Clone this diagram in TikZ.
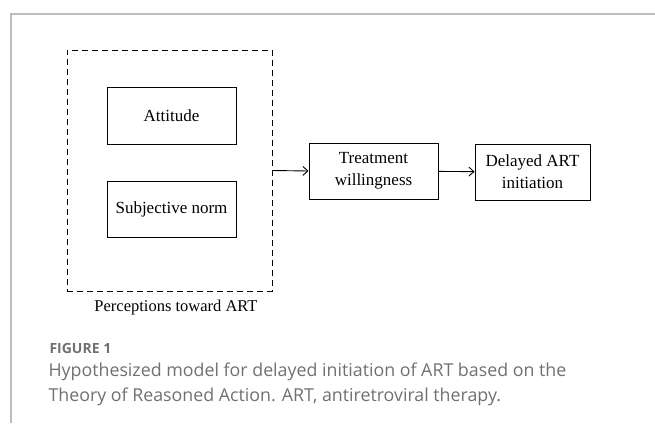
\documentclass[tikz,border=0pt]{standalone}
\usepackage{fontspec}
\setmainfont{Liberation Serif}
\newfontfamily\capfont{Open Sans}
\usetikzlibrary{positioning,arrows.meta}
\definecolor{capgray}{HTML}{707070}
\definecolor{framegray}{HTML}{BDBDBD}

\begin{document}
\begin{tikzpicture}[x=1pt,y=-1pt,
    every node/.style={font=\fontsize{17}{22}\selectfont},
    box/.style={draw,line width=1pt,inner sep=0pt,align=center},
    link/.style={-{Straight Barb[length=5pt,width=9pt]},line width=0.9pt}]
    \useasboundingbox (0,0) rectangle (655,423);
    \draw[framegray,line width=1.5pt] (11,423) -- (11,14) -- (655,14);
    % perceptions group
    \node[draw,dash pattern=on 6pt off 4pt,line width=1pt,minimum width=205,minimum height=241] (perc) at (169.5,170.5) {};
    \node[box,minimum width=129,minimum height=57] (att) at (171.5,115.5) {Attitude};
    \node[box,minimum width=129,minimum height=56] (norm) at (171.5,209) {Subjective norm};
    \node[font=\fontsize{16.5}{19}\selectfont] (perclbl) at (176,308) {Perceptions toward ART};
    % outcome chain
    \node[box,minimum width=129,minimum height=56] (will) at (373.5,171) {Treatment\\willingness};
    \node[box,minimum width=115,minimum height=56] (delay) at (532.5,172) {Delayed ART\\initiation};
    \draw[link] (perc.east) -- (will.west);
    \draw[link] (will) -- (delay);
    % caption
    \node[anchor=west,capgray,font=\capfont\bfseries\fontsize{14}{16}\selectfont] (fig) at (46,348) {FIGURE 1};
    \node[anchor=west,capgray,align=left,font=\capfont\fontsize{17.8}{25}\selectfont] (cap) at (45,384.5)
        {Hypothesized model for delayed initiation of ART based on the\\Theory of Reasoned Action. ART, antiretroviral therapy.};
\end{tikzpicture}
\end{document}
